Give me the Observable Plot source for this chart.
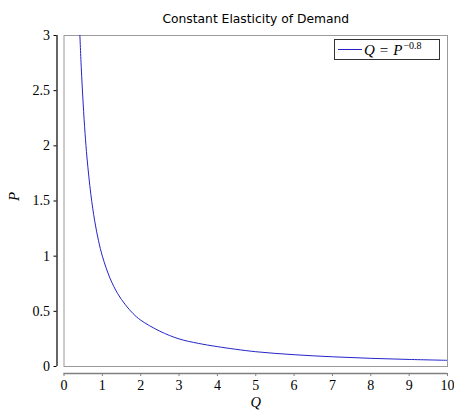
<!DOCTYPE html>
<html>
<head>
<meta charset="utf-8">
<script src="https://cdn.jsdelivr.net/npm/d3@7"></script>
<script src="https://cdn.jsdelivr.net/npm/@observablehq/plot@0.6"></script>
<style>
  html, body { margin: 0; padding: 0; background: #fff; }
  #wrap { position: relative; width: 454px; height: 413px; }
  #legend {
    position: absolute; left: 334px; top: 39px; width: 106px; height: 21px;
    border: 1px solid #333; background: #fff; box-sizing: border-box;
    font-family: "Liberation Serif", serif; font-size: 15px; color: #000;
    white-space: nowrap; line-height: 19px; padding-top: 1px;
  }
  #legend .sw { display: inline-block; width: 24px; height: 0; border-top: 1px solid #2424c8; margin: 0 2px 0 3px; vertical-align: 5px; }
  #legend i { font-style: italic; }
  #legend .eq { margin: 0 5px; }
  #legend sup { font-size: 10px; vertical-align: 6px; line-height: 0; margin-left: 1px; }
</style>
</head>
<body>
<div id="wrap"></div>
<script>
const title = "Constant Elasticity of Demand";
const xLabel = "Q";
const yLabel = "P";
// points (Q, P)
const qValues = [0.41, 0.45, 0.5, 0.55, 0.6, 0.7, 0.8, 0.9, 1, 1.2, 1.4, 1.6, 1.8, 2, 2.5, 3, 3.5, 4, 5, 6, 7, 8, 9, 10];
const pValues = [3.04, 2.71, 2.38, 2.11, 1.89, 1.56, 1.32, 1.14, 1.0, 0.80, 0.66, 0.56, 0.48, 0.42, 0.32, 0.25, 0.21, 0.18, 0.134, 0.107, 0.088, 0.074, 0.064, 0.056];
const xTicks = [0, 1, 2, 3, 4, 5, 6, 7, 8, 9, 10];
const yTicks = [0, 0.5, 1, 1.5, 2, 2.5, 3];

const data = qValues.map((q, i) => ({q, p: pValues[i]}));
const serif = "Liberation Serif";

const chart = Plot.plot({
  width: 454,
  height: 413,
  marginLeft: 63.5,
  marginRight: 7,
  marginTop: 35,
  marginBottom: 47,
  style: {fontFamily: serif, fontSize: "14px", background: "#fff", overflow: "visible"},
  x: {domain: [0, 10]},
  y: {domain: [0, 3]},
  marks: [
    Plot.frame({stroke: "#9a9a9a", strokeWidth: 1}),
    Plot.line(data, {x: "q", y: "p", stroke: "#2424c8", strokeWidth: 1, curve: "catmull-rom", clip: true}),
    // y spine (offset left)
    Plot.ruleX([0], {dx: -7, stroke: "#000", strokeWidth: 1.2}),
    Plot.axisY({ticks: yTicks, tickFormat: d => String(d), dx: -7, tickSize: 3, tickPadding: 4,
      fontFamily: serif, fontSize: 14, label: null}),
    // x spine (offset down)
    Plot.ruleY([0], {dy: 7, stroke: "#808080", strokeWidth: 1.5}),
    Plot.axisX({ticks: xTicks, tickFormat: d => String(d), dy: 7, tickSize: 3, tickPadding: 4,
      stroke: "#808080", fontFamily: serif, fontSize: 14, label: null}),
    Plot.text([xLabel], {frameAnchor: "bottom", dy: 40, fontStyle: "italic", fontFamily: serif, fontSize: 14.5, fill: "#000"}),
    Plot.text([yLabel], {frameAnchor: "left", dx: -50, rotate: -90, fontStyle: "italic", fontFamily: serif, fontSize: 15, fill: "#000"}),
    Plot.text([title], {frameAnchor: "top", dy: -21, fontFamily: "DejaVu Sans", fontSize: 12.3, fill: "#000"})
  ]
});
const wrap = document.getElementById("wrap");
wrap.appendChild(chart);
const lg = document.createElement("div");
lg.id = "legend";
lg.innerHTML = '<span class="sw"></span><i>Q</i><span class="eq">=</span><i>P</i><sup>\u22120.8</sup>';
wrap.appendChild(lg);
</script>
</body>
</html>
